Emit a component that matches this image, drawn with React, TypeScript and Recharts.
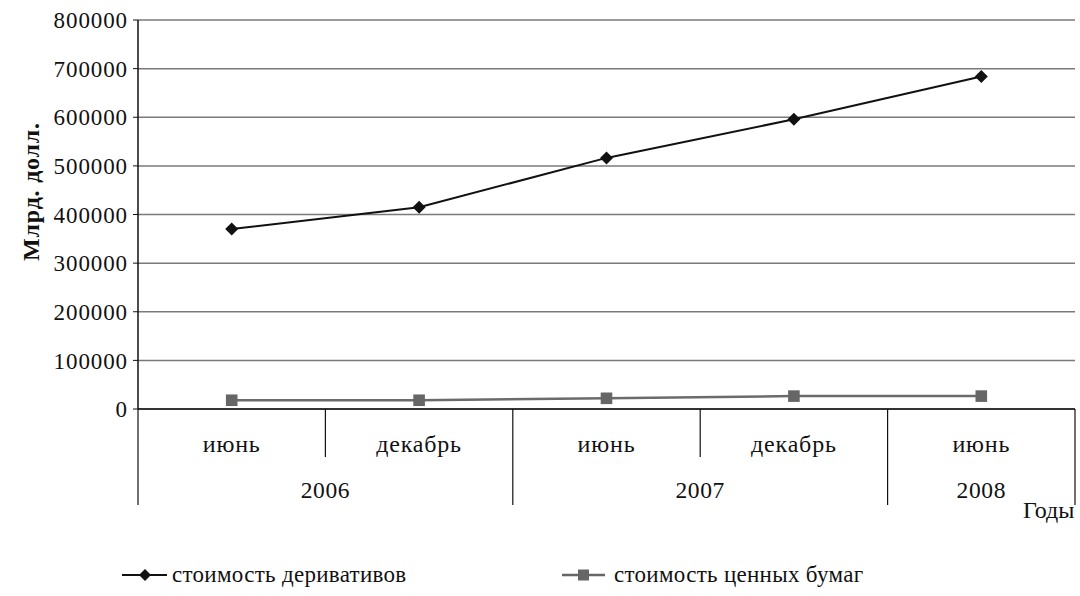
import { LineChart, Line, XAxis, YAxis, CartesianGrid, Legend } from "recharts";

const months = ["июнь", "декабрь", "июнь", "декабрь", "июнь"];
const years = ["2006", "2006", "2007", "2007", "2008"];
const derivatives = [370178, 414845, 516407, 595738, 683725];
const securities = [18000, 18000, 22000, 26500, 26500];
const yTicks = [0, 100000, 200000, 300000, 400000, 500000, 600000, 700000, 800000];

const data = months.map((m, i) => ({
  key: `${m}-${years[i]}-${i}`,
  month: m,
  year: years[i],
  derivatives: derivatives[i],
  securities: securities[i],
}));

const FONT = "Liberation Serif";
const W = 1080;
const H = 596;
const LEFT = 138;
const RIGHT = 5;
const HALF = (W - LEFT - RIGHT) / months.length / 2;

const Diamond = (props: any) => {
  const { cx, cy } = props;
  if (cx == null || cy == null) return null;
  const r = 6.5;
  return (
    <polygon
      points={`${cx},${cy - r} ${cx + r},${cy} ${cx},${cy + r} ${cx - r},${cy}`}
      fill="#111"
    />
  );
};

const Square = (props: any) => {
  const { cx, cy } = props;
  if (cx == null || cy == null) return null;
  const r = 5.8;
  return <rect x={cx - r} y={cy - r} width={r * 2} height={r * 2} fill="#666" />;
};

const CategoryTick = (props: any) => {
  const { x, y, payload } = props;
  const i = payload.index;
  const half = payload.offset || HALF;
  const last = i === months.length - 1;
  const yearEnd = last || years[i + 1] !== years[i];
  const yearStart = i === 0 || years[i - 1] !== years[i];
  let count = 0;
  if (yearStart) {
    for (let j = i; j < years.length && years[j] === years[i]; j++) count++;
  }
  return (
    <g>
      {i === 0 && <line x1={x - half} x2={x - half} y1={y} y2={y + 96} stroke="#111" strokeWidth={1.2} />}
      <line x1={x + half} x2={x + half} y1={y} y2={y + (yearEnd ? 96 : 48)} stroke="#111" strokeWidth={1.2} />
      <text x={x} y={y + 43} textAnchor="middle" fontFamily={FONT} fontSize={24} letterSpacing={0.8} fill="#111">
        {months[i]}
      </text>
      {yearStart && (
        <text x={x - half + count * half} y={y + 89} textAnchor="middle" fontFamily={FONT} fontSize={23.5} letterSpacing={0.6} fill="#111">
          {years[i]}
        </text>
      )}
      {last && (
        <text x={x + half - 52} y={y + 109} fontFamily={FONT} fontSize={24} fill="#111">
          Годы
        </text>
      )}
    </g>
  );
};

const YTitle = (props: any) => {
  const vb = props.viewBox || { y: 20, height: 389 };
  const cx = 31;
  const cy = vb.y + vb.height / 2 - 23;
  return (
    <text
      x={cx}
      y={cy}
      transform={`rotate(-90, ${cx}, ${cy})`}
      textAnchor="middle"
      dominantBaseline="central"
      fontFamily={FONT}
      fontWeight="bold"
      fontSize={24}
      letterSpacing={0.8}
      fill="#111"
    >
      Млрд. долл.
    </text>
  );
};

const LegendContent = () => (
  <svg width={W} height={30} style={{ display: "block" }}>
    <line x1={122} x2={167} y1={14} y2={14} stroke="#111" strokeWidth={2} />
    <polygon points="145,8 151,14 145,20 139,14" fill="#111" />
    <text x={172} y={21} fontFamily={FONT} fontSize={23} letterSpacing={0.3} fill="#111">
      стоимость деривативов
    </text>
    <line x1={562} x2={605} y1={14} y2={14} stroke="#666" strokeWidth={2.5} />
    <rect x={578} y={8.5} width={11} height={11} fill="#666" />
    <text x={614} y={21} fontFamily={FONT} fontSize={23} letterSpacing={0.3} fill="#111">
      стоимость ценных бумаг
    </text>
  </svg>
);

export default function App() {
  return (
    <div style={{ position: "absolute", left: 0, top: 0, width: W, height: H, background: "#fff" }}>
      <LineChart width={W} height={H} data={data} margin={{ top: 20, right: RIGHT, left: 0, bottom: 77 }}>
        <CartesianGrid vertical={false} stroke="#7a7a7a" strokeWidth={1.5} />
        <XAxis
          dataKey="key"
          height={110}
          padding={{ left: HALF, right: HALF }}
          axisLine={{ stroke: "#111", strokeWidth: 1.5 }}
          tickLine={false}
          tickSize={0}
          tickMargin={0}
          interval={0}
          tick={<CategoryTick />}
        />
        <YAxis
          width={LEFT}
          domain={[0, 800000]}
          ticks={yTicks}
          interval={0}
          axisLine={{ stroke: "#111", strokeWidth: 1.5 }}
          tickLine={{ stroke: "#111" }}
          tickSize={5}
          tickMargin={5}
          tick={{ fill: "#111", fontFamily: FONT, fontSize: 23, letterSpacing: 0.9 }}
          label={<YTitle />}
        />
        <Line
          dataKey="derivatives"
          name="стоимость деривативов"
          stroke="#111"
          strokeWidth={2}
          dot={<Diamond />}
          activeDot={false}
          isAnimationActive={false}
        />
        <Line
          dataKey="securities"
          name="стоимость ценных бумаг"
          stroke="#6b6b6b"
          strokeWidth={2.5}
          dot={<Square />}
          activeDot={false}
          isAnimationActive={false}
        />
        <Legend
          layout="horizontal"
          verticalAlign="middle"
          align="center"
          wrapperStyle={{ left: 0, top: 561, width: W }}
          content={<LegendContent />}
        />
      </LineChart>
    </div>
  );
}
